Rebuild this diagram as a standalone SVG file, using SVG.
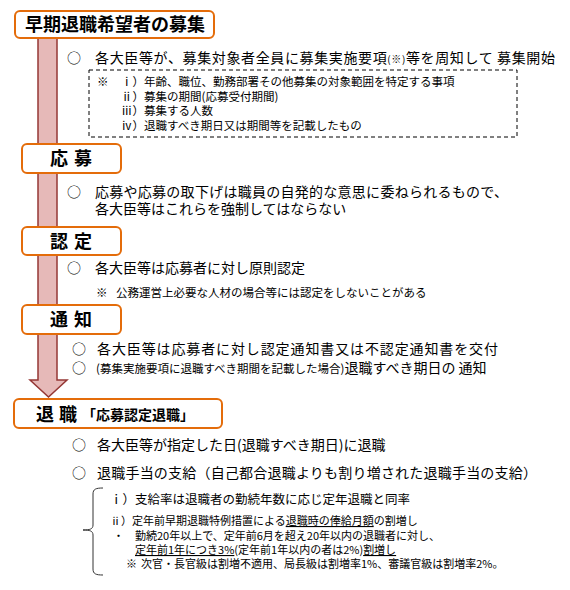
<svg xmlns="http://www.w3.org/2000/svg" width="570" height="590" viewBox="0 0 570 590">
<style>
text{font-family:"Noto Sans CJK JP","Noto Sans",sans-serif;fill:#000}
.box{fill:#fff;stroke:#E46C0A;stroke-width:2}
.hd{font-size:18px;font-weight:bold}
.t14{font-size:14px}
.t12{font-size:12.5px}
.t11b{font-size:11px}
.t11{font-size:11.5px}
.u{text-decoration:underline}
</style>
<rect width="570" height="590" fill="#fff"/>
<g id="connectors">
<path d="M38,38 L57,38 L57,380 L67,380 L48.5,397 L30,380 L38,380 Z" fill="#E6B9B8" stroke="#953735" stroke-width="1.5" stroke-linejoin="miter"/>
</g>
<g id="node-boshu">
<rect class="box" x="15" y="11" width="199" height="27" rx="5"/>
<text class="hd" x="25" y="31">早期退職希望者の募集</text>
<text class="t14" x="67" y="63">○</text>
<text class="t14" x="95" y="63" textLength="460">各大臣等が、募集対象者全員に募集実施要項<tspan font-size="10">(※)</tspan>等を周知して 募集開始</text>
<rect x="89" y="70" width="428" height="67" fill="none" stroke="#000" stroke-width="1" stroke-dasharray="4,3"/>
<text class="t11" x="97" y="86">※</text>
<text class="t11" x="121" y="86">ⅰ）年齢、職位、勤務部署その他募集の対象範囲を特定する事項</text>
<text class="t11" x="121" y="101">ⅱ）募集の期間(応募受付期間)</text>
<text class="t11" x="121" y="115">ⅲ）募集する人数</text>
<text class="t11" x="121" y="130">ⅳ）退職すべき期日又は期間等を記載したもの</text>
</g>
<g id="node-oubo">
<rect class="box" x="22" y="144" width="99" height="29" rx="5"/>
<text class="hd" x="50" y="165" letter-spacing="6">応募</text>
<text class="t14" x="67" y="197">○</text>
<text class="t14" x="95" y="197" textLength="413">応募や応募の取下げは職員の自発的な意思に委ねられるもので、</text>
<text class="t14" x="95" y="214">各大臣等はこれらを強制してはならない</text>
</g>
<g id="node-nintei">
<rect class="box" x="22" y="227" width="99" height="28" rx="5"/>
<text class="hd" x="50" y="248" letter-spacing="6">認定</text>
<text class="t14" x="67" y="273">○</text>
<text class="t14" x="95" y="273">各大臣等は応募者に対し原則認定</text>
<text class="t11" x="96" y="297">※</text>
<text class="t11" x="116" y="297">公務運営上必要な人材の場合等には認定をしないことがある</text>
</g>
<g id="node-tsuchi">
<rect class="box" x="22" y="305" width="99" height="29" rx="5"/>
<text class="hd" x="50" y="326" letter-spacing="6">通知</text>
<text class="t14" x="72" y="354">○</text>
<text class="t14" x="97" y="354" textLength="401">各大臣等は応募者に対し認定通知書又は不認定通知書を交付</text>
<text class="t14" x="72" y="373">○</text>
<text x="96" y="373"><tspan class="t11">(募集実施要項に退職すべき期間を記載した場合)</tspan><tspan class="t14">退職すべき期日の 通知</tspan></text>
</g>
<g id="node-taishoku">
<rect class="box" x="14" y="399" width="208" height="29" rx="5"/>
<text class="hd" x="36" y="421" letter-spacing="5">退職</text>
<text x="82" y="420" font-size="14" font-weight="bold">「応募認定退職」</text>
<text class="t14" x="72" y="450">○</text>
<text class="t14" x="97" y="450">各大臣等が指定した日(退職すべき期日)に退職</text>
<text class="t14" x="72" y="478">○</text>
<text class="t14" x="97" y="478" textLength="440">退職手当の支給（自己都合退職よりも割り増された退職手当の支給）</text>
<path d="M103,488 C96,488 93,489 93,494 L93,525 C93,529 90,530 83,530 C90,530 93,531 93,535 L93,569 C93,574 96,575 103,575" fill="none" stroke="#333" stroke-width="1"/>
<text class="t12" x="110" y="504">ⅰ）支給率は退職者の勤続年数に応じ定年退職と同率</text>
<text class="t11b" x="110" y="525">ⅱ）定年前早期退職特例措置による<tspan class="u">退職時の俸給月額</tspan>の割増し</text>
<text class="t11b" x="113" y="540">・</text>
<text class="t11b" x="135" y="540">勤続20年以上で、定年前6月を超え20年以内の退職者に対し、</text>
<text class="t11b" x="135" y="554"><tspan class="u">定年前1年につき3%</tspan>(定年前1年以内の者は2%)<tspan class="u">割増し</tspan></text>
<text class="t11b" x="126" y="568">※</text>
<text class="t11b" x="141" y="568">次官・長官級は割増不適用、局長級は割増率1%、審議官級は割増率2%。</text>
</g>
</svg>
